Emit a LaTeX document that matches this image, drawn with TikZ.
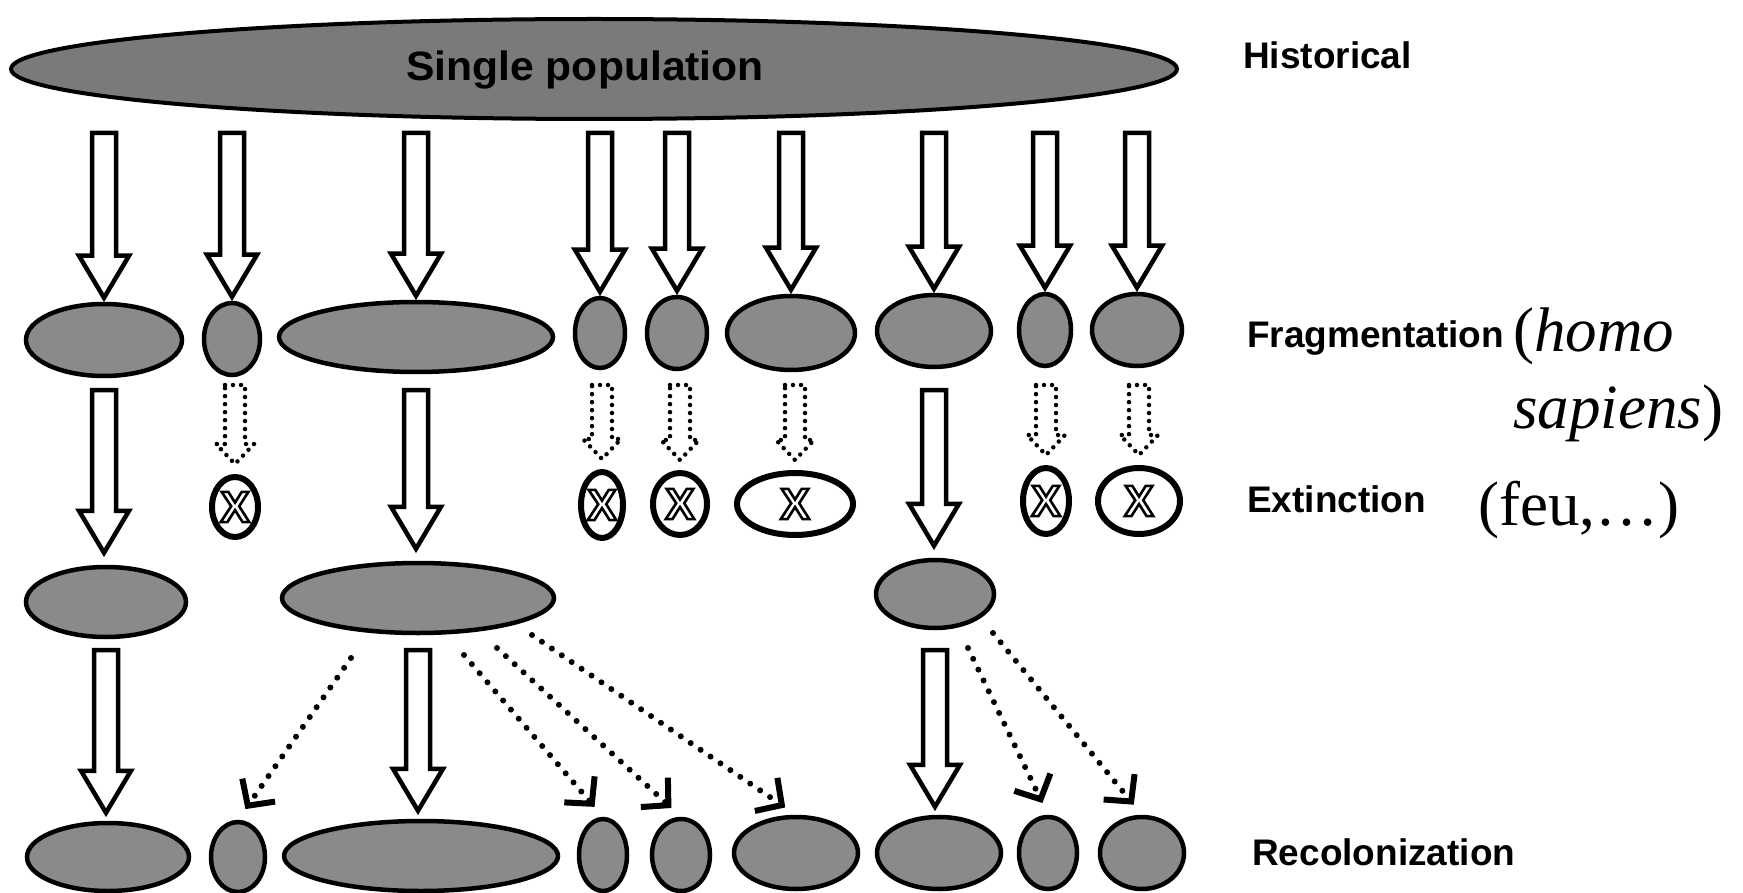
\documentclass[tikz,border=0pt]{standalone}
\usepackage{fontspec}
\setmainfont{Liberation Serif}
\newfontfamily\lsans{Liberation Sans}
\usetikzlibrary{shapes.geometric,arrows.meta,calc}
\newcommand\outlineX{\special{pdf:literal direct 1 Tr 2.6 w}X\special{pdf:literal direct 0 Tr}}
\begin{document}
\begin{tikzpicture}[x=1pt,y=-1pt,
  pop/.style={ellipse, draw=black, line width=4.5pt, fill=black!46, inner sep=0pt},
  ext/.style={ellipse, draw=black, line width=6pt, fill=white, inner sep=0pt,
    font=\lsans\bfseries\fontsize{44}{44}\selectfont},
  lbl/.style={anchor=base west, inner sep=0pt, font=\lsans\bfseries\fontsize{37}{44}\selectfont},
  note/.style={anchor=base west, inner sep=0pt, font=\fontsize{63}{76}\selectfont},
  blk/.style={draw=black, line width=4.5pt, fill=white, line join=miter,
    to path={let \p1=(\tikztostart), \p2=(\tikztotarget) in
      (\x1-12pt,\y1) -- (\x1+12pt,\y1) -- (\x1+12pt,\y2+42pt) -- (\x1+25pt,\y2+42pt)
      -- (\x1,\y2) -- (\x1-25pt,\y2+42pt) -- (\x1-12pt,\y2+42pt) -- cycle}},
  dblk/.style={draw=black, line width=4.5pt, line cap=round, line join=round,
    dash pattern=on 0pt off 8pt,
    to path={let \p1=(\tikztostart), \p2=(\tikztotarget) in
      (\x1-10pt,\y1) -- (\x1+10pt,\y1) -- (\x1+10pt,\y2+20pt) -- (\x1+19pt,\y2+20pt)
      -- (\x1,\y2) -- (\x1-19pt,\y2+20pt) -- (\x1-10pt,\y2+20pt) -- cycle}},
  dotarr/.style={draw=black, line width=6pt, line cap=round, dash pattern=on 0pt off 12pt,
    -{Straight Barb[length=19pt,width=40pt]}, shorten >=13pt},
]
\useasboundingbox (0,0) rectangle (1743,893);
\fill[white] (0,0) rectangle (1743,893);

% historical population
\node[ellipse, draw=black, line width=4pt, fill=black!52, inner sep=0pt,
  minimum width=1166pt, minimum height=100pt] (H) at (594,69) {};
\node[anchor=base, inner sep=0pt, font=\lsans\bfseries\fontsize{41}{44}\selectfont]
  (sp) at (585,81) {\scalebox{1.04}[1]{Single population}};

% fragmentation row
\node[pop, minimum width=156pt, minimum height=72pt] (F1) at (104,340) {};
\node[pop, minimum width=56pt,  minimum height=72pt] (F2) at (232,339) {};
\node[pop, minimum width=274pt, minimum height=70pt] (F3) at (416,337) {};
\node[pop, minimum width=50pt,  minimum height=70pt] (F4) at (600,333) {};
\node[pop, minimum width=60pt,  minimum height=72pt] (F5) at (677,333) {};
\node[pop, minimum width=128pt, minimum height=74pt] (F6) at (791,333) {};
\node[pop, minimum width=114pt, minimum height=72pt] (F7) at (934,331) {};
\node[pop, minimum width=52pt,  minimum height=72pt] (F8) at (1045,330) {};
\node[pop, minimum width=90pt,  minimum height=72pt] (F9) at (1137,330) {};

% extinction row
\node[ext, minimum width=46pt,  minimum height=60pt] (E2) at (235,507) {\outlineX};
\node[ext, minimum width=42pt,  minimum height=66pt] (E4) at (602,505) {\outlineX};
\node[ext, minimum width=54pt,  minimum height=62pt] (E5) at (680,504) {\outlineX};
\node[ext, minimum width=116pt, minimum height=62pt] (E6) at (795,504) {\outlineX};
\node[ext, minimum width=46pt,  minimum height=66pt] (E8) at (1046,501) {\outlineX};
\node[ext, minimum width=82pt,  minimum height=66pt] (E9) at (1139,501) {\outlineX};

% survivors
\node[pop, minimum width=160pt, minimum height=70pt] (S1) at (106,602) {};
\node[pop, minimum width=272pt, minimum height=70pt] (S3) at (418,598) {};
\node[pop, minimum width=118pt, minimum height=68pt] (S7) at (935,594) {};

% recolonization row
\node[pop, minimum width=162pt, minimum height=68pt] (R1) at (108,857) {};
\node[pop, minimum width=54pt,  minimum height=70pt] (R2) at (238,857) {};
\node[pop, minimum width=274pt, minimum height=70pt] (R3) at (421,856) {};
\node[pop, minimum width=48pt,  minimum height=72pt] (R4) at (603,855) {};
\node[pop, minimum width=58pt,  minimum height=72pt] (R5) at (681,855) {};
\node[pop, minimum width=124pt, minimum height=72pt] (R6) at (796,853) {};
\node[pop, minimum width=124pt, minimum height=72pt] (R7) at (939,853) {};
\node[pop, minimum width=58pt,  minimum height=72pt] (R8) at (1048,853) {};
\node[pop, minimum width=84pt,  minimum height=72pt] (R9) at (1142,853) {};

% row top levels
\coordinate (t1) at (0,133);
\coordinate (t2) at (0,390);
\coordinate (td) at (0,385);
\coordinate (t3) at (0,650);

% historical -> fragments
\foreach \f in {F1,F2,F3,F4,F5,F6,F7,F8,F9}
  \draw[blk] (\f.north |- t1) to ([yshift=4pt]\f.north);

% fragments -> extinction
\foreach \f/\e in {F2/E2,F4/E4,F5/E5,F6/E6,F8/E8,F9/E9}
  \draw[dblk] (\e.north |- td) to ([yshift=10pt]\e.north);

% fragments -> survivors
\draw[blk] (F1.south |- t2) to ([yshift=12pt]S1.north);
\draw[blk] (F3.south |- t2) to ([yshift=12pt]S3.north);
\draw[blk] (F7.south |- t2) to ([yshift=12pt]S7.north);

% survivors -> recolonization
\draw[blk] (S1.south |- t3) to ([yshift=8pt]R1.north);
\draw[blk] (S3.south |- t3) to ([yshift=8pt]R3.north);
\draw[blk] (S7.south |- t3) to ([yshift=8pt]R7.north);

% dispersal
\coordinate (s3a) at (351,658);
\coordinate (s3b) at (464,655);
\coordinate (s3c) at (497,648);
\coordinate (s3d) at (532,635);
\coordinate (s7a) at (968,648);
\coordinate (s7b) at (993,633);
\draw[dotarr] (s3a) -- (R2.north);
\draw[dotarr] (s3b) -- (R4.north);
\draw[dotarr] (s3c) -- (R5.north);
\draw[dotarr] (s3d) -- (R6.north);
\draw[dotarr] (s7a) -- (R8.north);
\draw[dotarr] (s7b) -- (R9.north);

% labels
\node[lbl] (lh) at (1243,69) {Historical};
\node[lbl] (lf) at (1247,348) {Fragmentation};
\node[lbl] (le) at (1247,512) {Extinction};
\node[lbl] (lr) at (1252,865) {Recolonization};
\node[note] (n1) at (1513,352) {(\textit{homo}};
\node[note] (n2) at (1513,428) {\textit{sapiens})};
\node[note] (n3) at (1478,525) {(feu,\ldots)};
\end{tikzpicture}
\end{document}
